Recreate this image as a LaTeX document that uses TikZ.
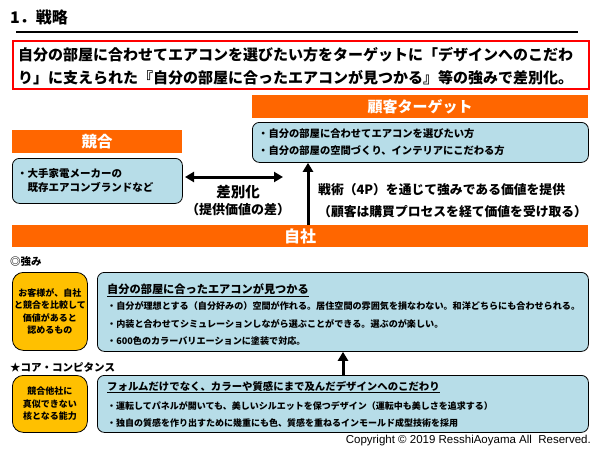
\documentclass[tikz,border=0pt]{standalone}
\usepackage{fontspec}
\setmainfont{Noto Sans CJK JP}
\newfontfamily\latinfont{Liberation Sans}
\usetikzlibrary{arrows.meta}

\definecolor{bandorange}{HTML}{FF6600}
\definecolor{paleblue}{HTML}{B7DDE8}
\definecolor{gold}{HTML}{FFC000}
\definecolor{framered}{HTML}{FF0000}
\newcommand{\jfont}[2]{\fontsize{#1}{#2}\selectfont\bfseries}

\begin{document}
\begin{tikzpicture}[x=1pt,y=-1pt,
    band/.style={fill=bandorange, text=white, inner sep=0, anchor=north west},
    bluebox/.style={fill=paleblue, draw=black, line width=0.8pt, rounded corners=7pt, anchor=north west},
    goldbox/.style={fill=gold, draw=black, line width=0.8pt, rounded corners=11pt, anchor=north west,
        inner sep=0, align=center},
    txt/.style={inner sep=0, anchor=west},
    fat/.style={line width=3pt},
    >={Triangle[length=9pt,width=10pt]}
]
    \fill[white] (0,0) rectangle (600,450);
    \useasboundingbox (0,0) rectangle (600,450);

    % heading
    \node[txt, font=\jfont{16}{16}] (head) at (10,17) {1．戦略};
    \draw[line width=2.2pt] (16,32) -- (578,32);

    % statement
    \node[draw=framered, line width=2pt, minimum width=576, minimum height=48,
        inner sep=0, anchor=north west] (claim) at (12,40) {};
    \node[txt, align=left, font=\jfont{15}{23}] (claimtxt) at (18,66.5)
        {自分の部屋に合わせてエアコンを選びたい方をターゲットに「デザインへのこだわ\\
         り」に支えられた『自分の部屋に合ったエアコンが見つかる』等の強みで差別化。};

    % customer target
    \node[band, minimum width=336, minimum height=23, font=\jfont{15}{15}] (targethd) at (252,95) {顧客ターゲット};
    \node[bluebox, minimum width=336, minimum height=40] (target) at (252,122) {};
    \node[txt, align=left, font=\jfont{10.3}{17}] (targettxt) at (258,142.5)
        {・自分の部屋に合わせてエアコンを選びたい方\\
         ・自分の部屋の空間づくり、インテリアにこだわる方};

    % competitor
    \node[band, minimum width=170, minimum height=23, font=\jfont{15.5}{15.5}] (rivalhd) at (12,130) {競合};
    \node[bluebox, minimum width=170, minimum height=45] (rival) at (12,158) {};
    \node[txt, align=left, font=\jfont{10.5}{14}] (rivaltxt) at (17,181)
        {・大手家電メーカーの\\
         \hspace*{1em}既存エアコンブランドなど};

    % differentiation
    \coordinate (diffL) at (185,177);
    \coordinate (diffR) at (283,177);
    \draw[fat, <->] (diffL) -- (diffR);
    \node[inner sep=0, font=\jfont{14.5}{14.5}] (difflbl) at (238,192) {差別化};
    \node[inner sep=0, font=\jfont{13}{13}] (diffsub) at (238,210) {（提供価値の差）};

    % own company
    \node[band, minimum width=576, minimum height=22, font=\jfont{16}{16}] (self) at (12,225) {自社};
    \coordinate (tacticx) at (308,0);
    \draw[fat, ->] (self.north -| tacticx) -- (target.south -| tacticx);
    \node[txt, align=left, font=\jfont{12.8}{22}] (tactictxt) at (318,201)
        {戦術（4P）を通じて強みである価値を提供\\
         （顧客は購買プロセスを経て価値を受け取る）};

    % strengths
    \node[txt, font=\jfont{10.5}{10.5}] (strhd) at (10,262) {◎強み};
    \node[goldbox, minimum width=75, minimum height=78, font=\jfont{9}{12.5}] (strval) at (12,272)
        {お客様が、自社\\と競合を比較して\\価値があると\\認めるもの};
    \node[bluebox, minimum width=491, minimum height=79] (strength) at (97,272) {};
    \node[txt, font=\jfont{11.2}{11.2}] (strtitle) at (107,290)
        {\underline{自分の部屋に合ったエアコンが見つかる}};
    \node[txt, align=left, font=\jfont{9.1}{17.5}] (strlist) at (107,323.5)
        {・自分が理想とする（自分好みの）空間が作れる。居住空間の雰囲気を損なわない。和洋どちらにも合わせられる。\\
         ・内装と合わせてシミュレーションしながら選ぶことができる。選ぶのが楽しい。\\
         ・600色のカラーバリエーションに塗装で対応。};

    % core competence
    \node[txt, font=\jfont{10.5}{10.5}] (corehd) at (10,367) {★コア・コンピタンス};
    \node[goldbox, minimum width=75, minimum height=57, font=\jfont{9}{12.5}] (coreval) at (12,375)
        {競合他社に\\真似できない\\核となる能力};
    \node[bluebox, minimum width=491, minimum height=57] (core) at (97,375) {};
    \node[txt, font=\jfont{10.4}{10.4}] (coretitle) at (107,387)
        {\underline{フォルムだけでなく、カラーや質感にまで及んだデザインへのこだわり}};
    \node[txt, align=left, font=\jfont{9}{17}] (corelist) at (107,414.5)
        {・運転してパネルが開いても、美しいシルエットを保つデザイン（運転中も美しさを追求する）\\
         ・独自の質感を作り出すために幾重にも色、質感を重ねるインモールド成型技術を採用};
    \coordinate (linkx) at (343,0);
    \draw[fat, ->] (core.north -| linkx) -- (strength.south -| linkx);

    \node[inner sep=0, anchor=east, font=\latinfont\fontsize{11.5}{11.5}\selectfont] (copy) at (591,441)
        {Copyright \textcopyright{} 2019 ResshiAoyama All\ \ Reserved.};
\end{tikzpicture}
\end{document}
